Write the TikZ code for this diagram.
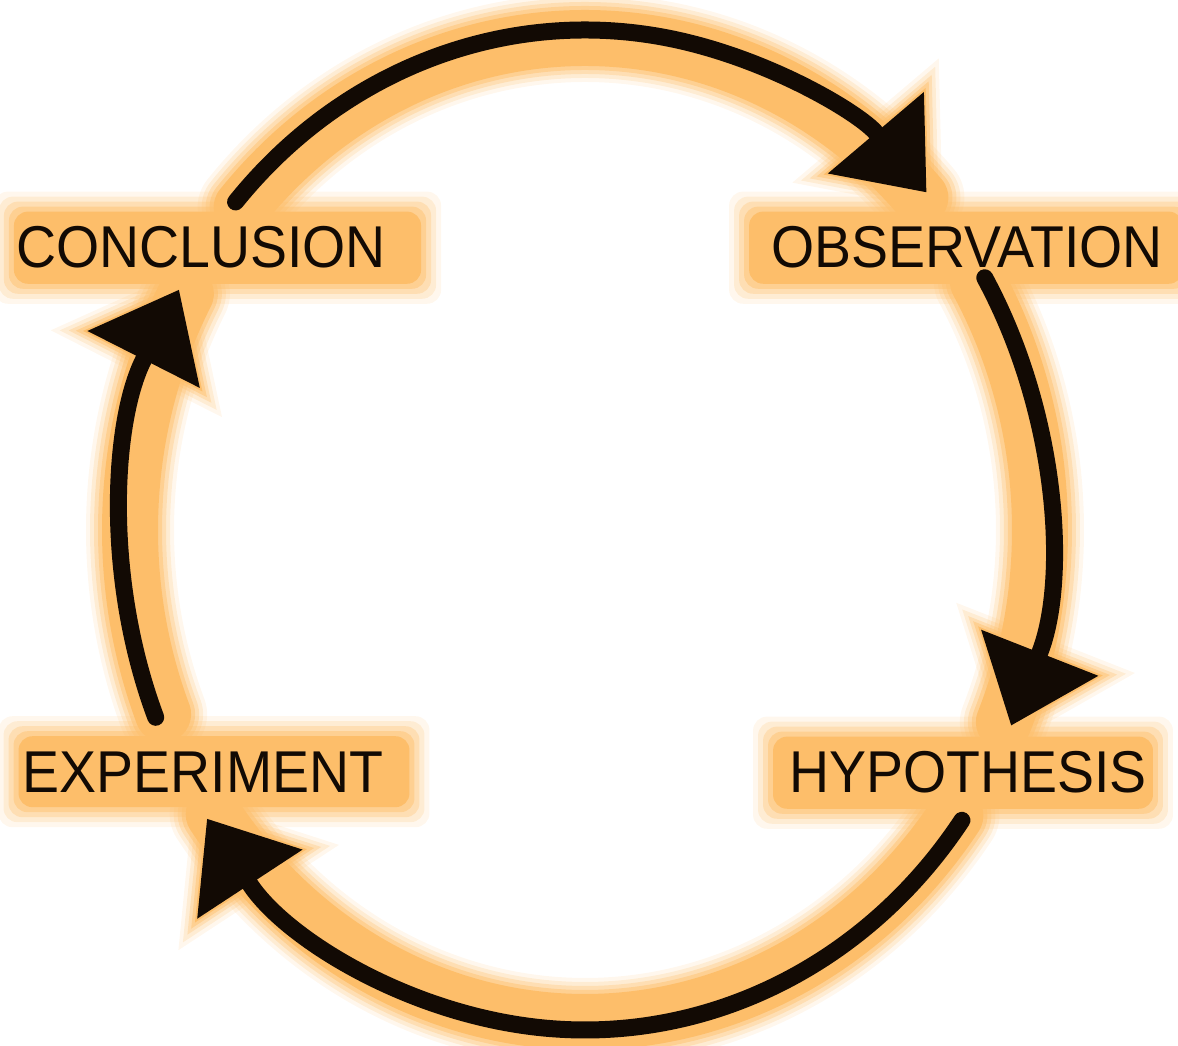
\documentclass[tikz,border=0pt]{standalone}
\usepackage{fontspec}
\newfontfamily\stepFont{Liberation Sans}[FakeStretch=0.94]
\usetikzlibrary{arrows.meta,calc,positioning}
\definecolor{glowOrange}{RGB}{253,190,106}
\definecolor{inkBlack}{RGB}{18,10,4}
\pgfdeclarelayer{glow}
\pgfsetlayers{glow,main}
\tikzset{
	%Define style for the four step labels
	stepLabel/.style={
		font=\stepFont\fontsize{59}{59}\selectfont,
		text=inkBlack,
		inner sep=0pt,
		anchor=base},
	% Define black arrow style
	cycleArrow/.style={
		draw=inkBlack,
		line width=17pt,
		line cap=round,
		-{Triangle[length=78pt,width=126pt,line width=0pt]}},
	% Define orange halo style
	glowBand/.style={
		draw=glowOrange,
		line cap=round}
}

\begin{document}
\begin{tikzpicture}[x=1pt,y=1pt]
		\useasboundingbox (0,0) rectangle (1178,1045);
		\coordinate (cyc) at (585,515);
		
		%nodes
		\node[stepLabel] (conclusion) at (201,777) {CONCLUSION};
		\node[stepLabel] (observation) at (967,777) {OBSERVATION};
		\node[stepLabel] (hypothesis) at (968,252) {HYPOTHESIS};
		\node[stepLabel] (experiment) at (203,253) {EXPERIMENT};
		
		\coordinate (fromConclusion) at ($(cyc)+(139:463pt and 500pt)$);
		\coordinate (fromObservation) at ($(cyc)+(30.3:463pt and 500pt)$);
		\coordinate (fromHypothesis) at ($(cyc)+(-35.5:463pt and 500pt)$);
		\coordinate (fromExperiment) at ($(cyc)+(202:463pt and 500pt)$);
		
		%orange halo, from faint outside to solid inside
		\begin{pgfonlayer}{glow}
			\foreach \op/\bw/\m/\tl/\tw/\te in {0.12/88/20/119/192/25, 0.2/80/15/109/176/19, 0.3/72/10/99/160/13, 0.45/64/5/91/147/8, 1/56/0/83/134/3}{
				\foreach \s/\e in {139/42.5, 30.3/-23, -35.5/-144.7, 202/151.3}{
					\draw[glowBand, line width=\bw pt, opacity=\op] ($(cyc)+(\s:455pt and 492pt)$) arc[start angle=\s, end angle=\e, x radius=455pt, y radius=492pt];
					\draw[glowOrange, opacity=\op, line width=1pt, shorten >=-\te pt, -{Triangle[length=\tl pt,width=\tw pt,line width=0pt]}] ($(cyc)+(\s:463pt and 500pt)$) arc[start angle=\s, end angle=\e, x radius=463pt, y radius=500pt];
				}
				\foreach \lab/\l/\r in {conclusion/2/35, observation/22/20, hypothesis/16/6, experiment/4/26}{
					\fill[glowOrange, opacity=\op, rounded corners=14pt] ([shift={(-\l-\m,-15-\m)}]\lab.south west) rectangle ([shift={(\r+\m,15+\m)}]\lab.north east);
				}
			}
		\end{pgfonlayer}
		
		%arrows
		\draw[cycleArrow] (fromConclusion) arc[start angle=139, end angle=42.5, x radius=463pt, y radius=500pt];
		\draw[cycleArrow] (fromObservation) arc[start angle=30.3, end angle=-23, x radius=463pt, y radius=500pt];
		\draw[cycleArrow] (fromHypothesis) arc[start angle=-35.5, end angle=-144.7, x radius=463pt, y radius=500pt];
		\draw[cycleArrow] (fromExperiment) arc[start angle=202, end angle=151.3, x radius=463pt, y radius=500pt];
		
\end{tikzpicture}
\end{document}
